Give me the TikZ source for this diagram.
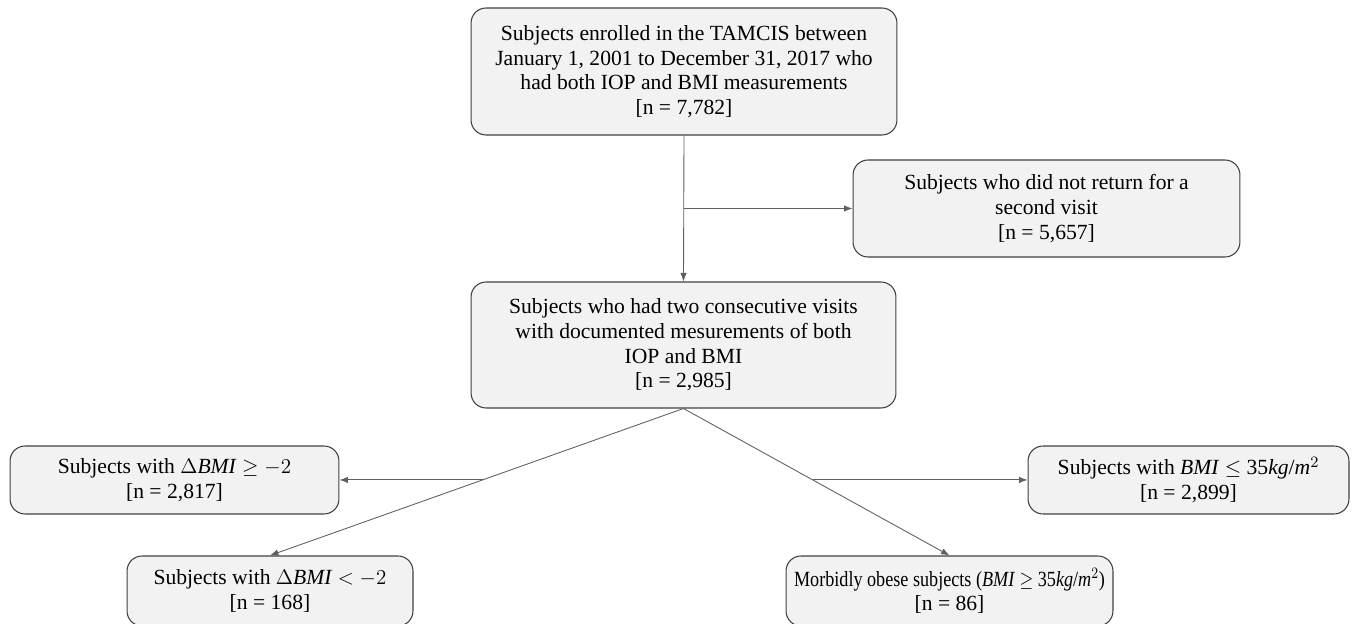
\documentclass[tikz,border=0pt]{standalone}
\usepackage{fontspec}
\setmainfont{Liberation Serif}
\usetikzlibrary{arrows.meta,calc}
\definecolor{boxfill}{HTML}{F2F2F2}
\definecolor{boxline}{HTML}{404040}
\definecolor{linkline}{HTML}{606060}
\newcommand{\bmivar}{\textit{BMI}}
\begin{document}
\begin{tikzpicture}[x=0.02cm, y=-0.02cm,
    flowbox/.style={draw=boxline, fill=boxfill, line width=0.6pt, rounded corners=0.3cm,
        align=center, inner sep=0pt, font=\fontsize{12.3}{14}\selectfont},
    link/.style={draw=linkline, line width=0.5pt, -{Latex[length=1.7mm, width=1.3mm]}}]
    \useasboundingbox (0,0) rectangle (1357,624);

    % Enrolled subjects
    \node[flowbox, minimum width=8.52cm, minimum height=2.54cm] (enrolled) at (684,71.5)
        {Subjects enrolled in the TAMCIS between\\
         January 1, 2001 to December 31, 2017 who\\
         had both IOP and BMI measurements\\
         {[n = 7,782]}};

    % Excluded: no second visit
    \node[flowbox, minimum width=7.74cm, minimum height=1.94cm] (noreturn) at (1046.5,208.5)
        {Subjects who did not return for a\\
         second visit\\
         {[n = 5,657]}};

    % Two consecutive visits
    \node[flowbox, minimum width=8.5cm, minimum height=2.52cm] (consecutive) at (683.5,345)
        {Subjects who had two consecutive visits\\
         with documented mesurements of both\\
         IOP and BMI\\
         {[n = 2,985]}};

    % Change of BMI groups (left)
    \node[flowbox, minimum width=6.58cm, minimum height=1.36cm] (dbmihigh) at (174.5,480)
        {Subjects with $\Delta$\bmivar{} $\geq -2$\\
         {[n = 2,817]}};
    \node[flowbox, minimum width=5.72cm, minimum height=1.4cm] (dbmilow) at (270,591)
        {Subjects with $\Delta$\bmivar{} $< -2$\\
         {[n = 168]}};

    % BMI level groups (right)
    \node[flowbox, minimum width=6.42cm, minimum height=1.36cm] (bmilow) at (1188.5,480)
        {Subjects with \bmivar{} $\leq$ 35\textit{kg}/\textit{m}$^2$\\
         {[n = 2,899]}};
    \node[flowbox, minimum width=6.54cm, minimum height=1.4cm] (obese) at (949.5,591)
        {\scalebox{0.84}[1]{Morbidly obese subjects (\bmivar{} $\geq$ 35\textit{kg}/\textit{m}$^2$)}\\
         {[n = 86]}};

    % Main flow and exclusion
    \coordinate (split) at ($(enrolled.south)!0.5!(consecutive.north)$);
    \draw[link] (enrolled.south) -- (consecutive.north);
    \draw[link] (split) -- (split -| noreturn.west);

    % Diagonal branches with side arrows
    \draw[link] (consecutive.south) -- (dbmilow.north);
    \draw[link] (consecutive.south) -- (obese.north);
    \coordinate (lsplit) at ($(consecutive.south)!0.486!(dbmilow.north)$);
    \coordinate (rsplit) at ($(consecutive.south)!0.486!(obese.north)$);
    \draw[link] (lsplit) -- (lsplit -| dbmihigh.east);
    \draw[link] (rsplit) -- (rsplit -| bmilow.west);
\end{tikzpicture}
\end{document}
